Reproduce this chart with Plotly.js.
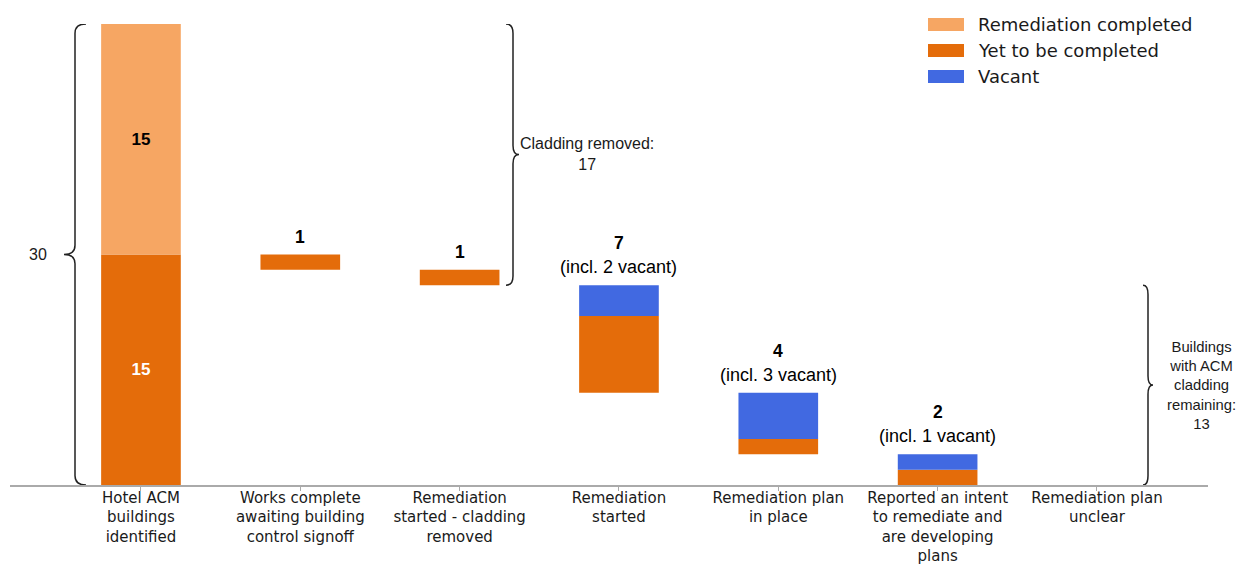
<!DOCTYPE html>
<html>
<head>
<meta charset="utf-8">
<script src="https://cdn.plot.ly/plotly-3.0.1.min.js"></script>
<style>
  html, body { margin: 0; padding: 0; background: #ffffff; }
  #chart { width: 1238px; height: 564px; }
</style>
</head>
<body>
<div id="chart"></div>
<script>
// ---- Data ----
const categories = [
  "Hotel ACM buildings identified",
  "Works complete awaiting building control signoff",
  "Remediation started - cladding removed",
  "Remediation started",
  "Remediation plan in place",
  "Reported an intent to remediate and are developing plans",
  "Remediation plan unclear"
];
const tickLabels = [
  "Hotel ACM<br>buildings<br>identified",
  "Works complete<br>awaiting building<br>control signoff",
  "Remediation<br>started - cladding<br>removed",
  "Remediation<br>started",
  "Remediation plan<br>in place",
  "Reported an intent<br>to remediate and<br>are developing<br>plans",
  "Remediation plan<br>unclear"
];
const remediationCompleted = [15, 0, 0, 0, 0, 0, 0];
const yetToBeCompleted     = [15, 1, 1, 5, 1, 1, 0];
const vacant               = [0, 0, 0, 2, 3, 1, 0];
const seriesNames = ["Remediation completed", "Yet to be completed", "Vacant"];
const braceLabels = ["Cladding removed:", "Buildings<br>with ACM<br>cladding<br>remaining:"];

// ---- Styles ----
const COL_COMPLETED = "#F6A663";
const COL_YET = "#E46C0A";
const COL_VACANT = "#4169E1";
const TEXT_COL = "#1a1a1a";
const ARIAL = "Liberation Sans, Arial, sans-serif";
const DEJAVU = "DejaVu Sans, sans-serif";

// ---- Waterfall bases derived from the data ----
const n = categories.length;
const totals = categories.map((_, i) => yetToBeCompleted[i] + vacant[i] + remediationCompleted[i]);
const baseYet = new Array(n).fill(0);
const baseVacant = new Array(n).fill(0);
const baseCompleted = new Array(n).fill(0);
const topOf = new Array(n).fill(0);
let level = yetToBeCompleted[0];
baseYet[0] = 0;
baseVacant[0] = yetToBeCompleted[0];
baseCompleted[0] = yetToBeCompleted[0] + vacant[0];
topOf[0] = totals[0];
for (let i = 1; i < n; i++) {
  const t = yetToBeCompleted[i] + vacant[i];
  const bottom = level - t;
  baseYet[i] = bottom;
  baseVacant[i] = bottom + yetToBeCompleted[i];
  baseCompleted[i] = bottom + t;
  topOf[i] = level;
  level = bottom;
}

const grandTotal = totals[0];
const claddingRemoved = remediationCompleted[0] + yetToBeCompleted[1] + yetToBeCompleted[2];
const remaining = totals.slice(3).reduce((a, b) => a + b, 0);
const claddingBottom = grandTotal - claddingRemoved;

const barWidth = 0.5;
const traces = [
  {
    type: "bar", name: seriesNames[1], x: categories, y: yetToBeCompleted, base: baseYet,
    width: barWidth, marker: { color: COL_YET, line: { width: 0 } },
    text: yetToBeCompleted.map((v, i) => i === 0 ? String(v) : ""),
    textposition: "inside", insidetextanchor: "middle", textangle: 0, constraintext: "none",
    textfont: { family: ARIAL, size: 17, weight: "bold", color: "#ffffff" },
    showlegend: false, hoverinfo: "skip"
  },
  {
    type: "bar", name: seriesNames[2], x: categories, y: vacant, base: baseVacant,
    width: barWidth, marker: { color: COL_VACANT, line: { width: 0 } },
    showlegend: false, hoverinfo: "skip"
  },
  {
    type: "bar", name: seriesNames[0], x: categories, y: remediationCompleted, base: baseCompleted,
    width: barWidth, marker: { color: COL_COMPLETED, line: { width: 0 } },
    text: remediationCompleted.map((v, i) => i === 0 ? String(v) : ""),
    textposition: "inside", insidetextanchor: "middle", textangle: 0, constraintext: "none",
    textfont: { family: ARIAL, size: 17, weight: "bold", color: "#000000" },
    showlegend: false, hoverinfo: "skip"
  }
];

// ---- Layout geometry ----
const W = 1238, H = 564;
const mL = 10, mR = 30, mT = 24, mB = 79;
const plotW = W - mL - mR;
const plotH = H - mT - mB;
const px2paperX = px => (px - mL) / plotW;
const px2paperY = py => (H - mB - py) / plotH;

function brace(xLine, xEnd, xTip, yTop, yBot, r) {
  const yMid = (yTop + yBot) / 2;
  return `M${xEnd},${yTop} Q${xLine},${yTop} ${xLine},${yTop - r} ` +
         `L${xLine},${yMid + r} Q${xLine},${yMid} ${xTip},${yMid} ` +
         `Q${xLine},${yMid} ${xLine},${yMid - r} ` +
         `L${xLine},${yBot + r} Q${xLine},${yBot} ${xEnd},${yBot}`;
}
const braceLine = { color: "#222222", width: 1.5 };
const shapes = [
  { type: "path", xref: "paper", yref: "y", line: braceLine,
    path: brace(px2paperX(75), px2paperX(86), px2paperX(64), grandTotal, 0, 0.6) },
  { type: "path", xref: "paper", yref: "y", line: braceLine,
    path: brace(px2paperX(513), px2paperX(506), px2paperX(519), grandTotal, claddingBottom, 0.6) },
  { type: "path", xref: "paper", yref: "y", line: braceLine,
    path: brace(px2paperX(1148), px2paperX(1143), px2paperX(1153), remaining, 0, 0.6) }
];

const annotations = [
  { xref: "paper", yref: "y", x: px2paperX(38), y: grandTotal / 2, text: String(grandTotal),
    showarrow: false, xanchor: "center", yanchor: "middle",
    font: { family: ARIAL, size: 16, color: TEXT_COL } },
  { xref: "paper", yref: "y", x: px2paperX(587), y: (grandTotal + claddingBottom) / 2, yshift: 1,
    text: braceLabels[0] + "<br>" + claddingRemoved, align: "center",
    showarrow: false, xanchor: "center", yanchor: "middle",
    font: { family: ARIAL, size: 16, color: TEXT_COL } },
  { xref: "paper", yref: "y", x: px2paperX(1201), y: remaining / 2,
    text: braceLabels[1] + "<br>" + remaining, align: "center",
    showarrow: false, xanchor: "center", yanchor: "middle",
    font: { family: ARIAL, size: 14.8, color: TEXT_COL } }
];

for (let i = 1; i < n; i++) {
  const t = yetToBeCompleted[i] + vacant[i];
  if (t === 0) continue;
  annotations.push({
    xref: "x", yref: "y", x: categories[i], y: topOf[i], text: "<b>" + t + "</b>",
    showarrow: false, xanchor: "center", yanchor: "middle", yshift: vacant[i] > 0 ? 42 : 18,
    font: { family: ARIAL, size: 17.5, color: "#000000" }
  });
  if (vacant[i] > 0) {
    annotations.push({
      xref: "x", yref: "y", x: categories[i], y: topOf[i], text: "(incl. " + vacant[i] + " vacant)",
      showarrow: false, xanchor: "center", yanchor: "middle", yshift: 18,
      font: { family: ARIAL, size: 18, color: "#000000" }
    });
  }
}

// ---- Custom legend (wide swatches) ----
const legendColors = [COL_COMPLETED, COL_YET, COL_VACANT];
const legendRowsPx = [24.5, 50.5, 76.5];
seriesNames.forEach((name, k) => {
  const cy = legendRowsPx[k];
  shapes.push({
    type: "rect", xref: "paper", yref: "paper",
    x0: px2paperX(928), x1: px2paperX(964),
    y0: px2paperY(cy + 6.5), y1: px2paperY(cy - 6.5),
    fillcolor: legendColors[k], line: { width: 0 }
  });
  annotations.push({
    xref: "paper", yref: "paper", x: px2paperX(976), y: px2paperY(cy),
    text: name, showarrow: false, xanchor: "left", yanchor: "middle",
    font: { family: DEJAVU, size: 18, color: TEXT_COL }
  });
});

const layout = {
  width: W, height: H,
  margin: { l: mL, r: mR, t: mT, b: mB, pad: 0 },
  paper_bgcolor: "#ffffff", plot_bgcolor: "#ffffff",
  barmode: "overlay",
  showlegend: false,
  xaxis: {
    type: "category", range: [-0.822, 6.697],
    tickmode: "array", tickvals: categories, ticktext: tickLabels,
    showline: true, linecolor: "#aaaaaa", linewidth: 1.5,
    ticks: "outside", ticklen: 4, tickcolor: "#aaaaaa", tickwidth: 1,
    ticklabelstandoff: -6,
    showgrid: false, zeroline: false,
    tickfont: { family: DEJAVU, size: 15, color: TEXT_COL },
    fixedrange: true
  },
  yaxis: {
    range: [0, grandTotal], visible: false, showgrid: false, zeroline: false, fixedrange: true
  },
  shapes: shapes,
  annotations: annotations
};

Plotly.newPlot("chart", traces, layout, { displayModeBar: false, staticPlot: true });
</script>
</body>
</html>
